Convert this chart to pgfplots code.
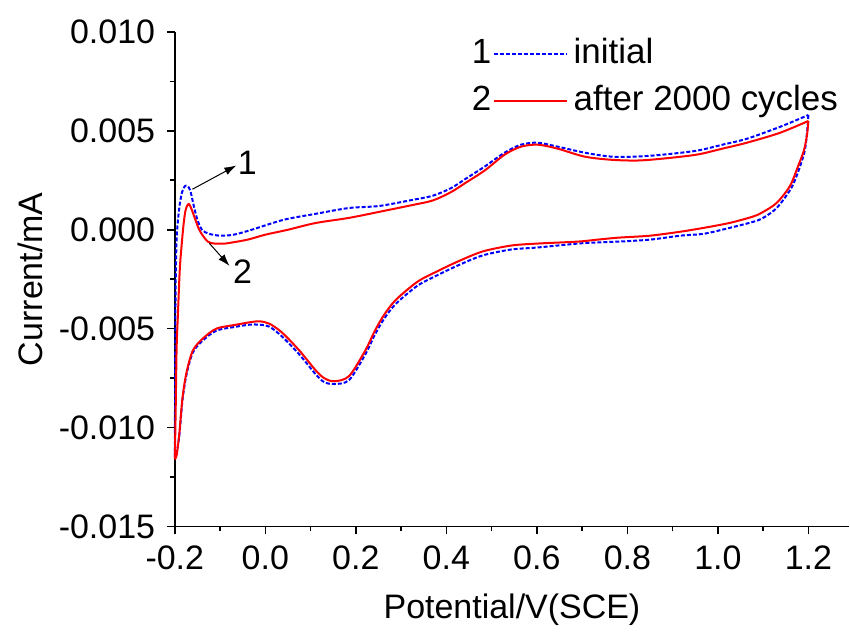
\documentclass[border=0pt]{standalone}
\usepackage{fontspec}
\setmainfont{Liberation Sans}
\usepackage{pgfplots}
\usepackage{pgfplotstable}
\pgfplotsset{compat=1.18}
\usetikzlibrary{arrows.meta}

% after 2000 cycles: anodic (forward) sweep
\pgfplotstableread{
V I
-0.200 -0.0116
-0.198 -0.0090
-0.196 -0.0060
-0.193 -0.0042
-0.189 -0.0020
-0.185 -0.0008
-0.181 0.0002
-0.177 0.0009
-0.173 0.0012
-0.169 0.0013
-0.164 0.0011
-0.156 0.0006
-0.148 0.0001
-0.141 -0.0002
-0.127 -0.0006
-0.112 -0.0007
-0.090 -0.0007
-0.075 -0.00065
-0.039 -0.0005
0.000 -0.00025
0.050 0.0000
0.111 0.00034
0.185 0.0006
0.257 0.00093
0.323 0.00124
0.370 0.00148
0.410 0.00190
0.441 0.00235
0.485 0.0030
0.529 0.0038
0.565 0.0042
0.602 0.0043
0.646 0.0041
0.705 0.0037
0.763 0.00354
0.822 0.0035
0.880 0.0036
0.954 0.0038
1.010 0.0041
1.064 0.0044
1.137 0.0049
1.200 0.0055
}\cycledA
% after 2000 cycles: cathodic (reverse) sweep
\pgfplotstableread{
V I
1.200 0.0055
1.197 0.0048
1.190 0.0040
1.177 0.0032
1.159 0.0022
1.130 0.00136
1.100 0.0009
1.078 0.00067
1.027 0.00035
0.970 0.0001
0.917 -0.0001
0.850 -0.0003
0.780 -0.0004
0.734 -0.0005
0.690 -0.0006
0.600 -0.0007
0.543 -0.0008
0.480 -0.0011
0.426 -0.0016
0.380 -0.0021
0.338 -0.0026
0.295 -0.0034
0.275 -0.0039
0.257 -0.0045
0.240 -0.0052
0.221 -0.0061
0.185 -0.0074
0.152 -0.00766
0.130 -0.0075
0.111 -0.0071
0.075 -0.0061
0.037 -0.0052
0.009 -0.00475
-0.013 -0.00463
-0.035 -0.00468
-0.064 -0.0048
-0.108 -0.0050
-0.138 -0.0055
-0.160 -0.0061
-0.174 -0.0072
-0.183 -0.0085
-0.190 -0.0103
-0.196 -0.0114
-0.200 -0.0116
}\cycledC
% initial: anodic sweep
\pgfplotstableread{
V I
-0.200 -0.0115
-0.199 -0.0060
-0.198 -0.0025
-0.196 -0.0005
-0.193 0.0005
-0.189 0.0013
-0.184 0.0019
-0.178 0.0022
-0.172 0.0022
-0.166 0.0020
-0.158 0.0012
-0.150 0.0005
-0.140 0.0000
-0.125 -0.0002
-0.100 -0.0003
-0.070 -0.00025
-0.030 0.0000
0.040 0.0005
0.110 0.0008
0.185 0.0011
0.251 0.0012
0.323 0.0015
0.370 0.00172
0.410 0.00210
0.441 0.00255
0.485 0.0032
0.529 0.0039
0.565 0.0043
0.602 0.0044
0.646 0.0042
0.705 0.0039
0.763 0.0037
0.822 0.0037
0.880 0.0038
0.954 0.0040
1.010 0.0043
1.064 0.0046
1.137 0.0052
1.200 0.0058
}\initialA
% initial: cathodic sweep
\pgfplotstableread{
V I
1.200 0.0058
1.197 0.0049
1.192 0.0040
1.180 0.0031
1.162 0.0021
1.130 0.0011
1.100 0.0006
1.078 0.0004
1.027 0.0001
0.970 -0.0002
0.917 -0.0003
0.850 -0.0005
0.780 -0.0006
0.734 -0.00064
0.690 -0.0007
0.600 -0.0009
0.543 -0.0010
0.480 -0.0013
0.426 -0.0018
0.380 -0.0023
0.338 -0.0028
0.295 -0.0036
0.275 -0.0041
0.257 -0.0047
0.240 -0.0054
0.221 -0.0063
0.185 -0.0076
0.152 -0.0078
0.130 -0.0077
0.111 -0.0073
0.075 -0.0063
0.037 -0.0054
0.009 -0.0049
-0.013 -0.0048
-0.035 -0.0048
-0.064 -0.0049
-0.108 -0.0051
-0.138 -0.0056
-0.160 -0.0062
-0.174 -0.0073
-0.183 -0.0086
-0.190 -0.0104
-0.196 -0.0113
-0.200 -0.0115
}\initialC

\begin{document}
\fontsize{17}{20}\selectfont
\begin{tikzpicture}
\begin{axis}[
  scale only axis, width=337.5pt, height=247.5pt,
  xmin=-0.2, xmax=1.29, ymin=-0.015, ymax=0.010,
  axis x line=bottom, axis y line=left,
  axis line style={-, line width=0.9pt},
  tick align=outside, major tick length=4pt, minor tick length=2.5pt,
  every tick/.style={black, line width=0.8pt},
  scaled x ticks=false, scaled y ticks=false,
  xtick={-0.2,0,0.2,0.4,0.6,0.8,1.0,1.2},
  xticklabels={-0.2,0.0,0.2,0.4,0.6,0.8,1.0,1.2},
  minor xtick={-0.1,0.1,0.3,0.5,0.7,0.9,1.1},
  ytick={-0.015,-0.010,-0.005,0,0.005,0.010},
  yticklabels={-0.015,-0.010,-0.005,0.000,0.005,0.010},
  minor ytick={-0.0125,-0.0075,-0.0025,0.0025,0.0075},
  xlabel={Potential/V(SCE)}, ylabel={Current/mA},
  xlabel style={at={(axis description cs:0.5,0)}, anchor=center, yshift=-41.5pt},
  ylabel style={at={(axis description cs:0,0.5)}, anchor=center, yshift=72.5pt},
  legend style={draw=none, fill=none, at={(rel axis cs:0.437,0.992)}, anchor=north west,
    column sep=3pt, row sep=5.5pt, inner sep=0pt, font=\fontsize{17.5}{20}\selectfont,
    nodes={inner sep=0pt, text height=12.5pt, text depth=3.5pt, anchor=west}},
  legend cell align=left,
  clip=false,
]
\addlegendimage{legend image code/.code={
  \draw[blue, line width=1pt, dash pattern=on 2pt off 1pt] (0pt,0pt) -- (36.5pt,0pt);
  \node[anchor=east, inner sep=1pt] at (0pt,0pt) {1};}}
\addlegendentry{initial}
\addlegendimage{legend image code/.code={
  \draw[red, line width=1pt] (0pt,0pt) -- (36.5pt,0pt);
  \node[anchor=east, inner sep=1pt] at (0pt,0pt) {2};}}
\addlegendentry{after 2000 cycles}

\addplot[forget plot, blue, line width=1pt, dash pattern=on 2pt off 1pt, smooth, tension=0.5] table[x=V, y=I] {\initialA};
\addplot[forget plot, blue, line width=1pt, dash pattern=on 2pt off 1pt, smooth, tension=0.5] table[x=V, y=I] {\initialC};
\addplot[forget plot, red, line width=1pt, smooth, tension=0.5] table[x=V, y=I] {\cycledA};
\addplot[forget plot, red, line width=1pt, smooth, tension=0.5] table[x=V, y=I] {\cycledC};

\draw[line width=0.5pt, -{Latex[length=6pt,width=4pt]}] (axis cs:-0.161,0.00205) -- (axis cs:-0.064,0.00325);
\node[anchor=west, inner sep=1pt] at (axis cs:-0.066,0.0034) {1};
\draw[line width=0.5pt, -{Latex[length=6pt,width=4pt]}] (axis cs:-0.124,-0.00068) -- (axis cs:-0.079,-0.00183);
\node[inner sep=0pt] at (axis cs:-0.05,-0.0021) {2};
\end{axis}
\path[use as bounding box] (-87.5pt,-55pt) rectangle (337.5pt,263.5pt);
\end{tikzpicture}
\end{document}
